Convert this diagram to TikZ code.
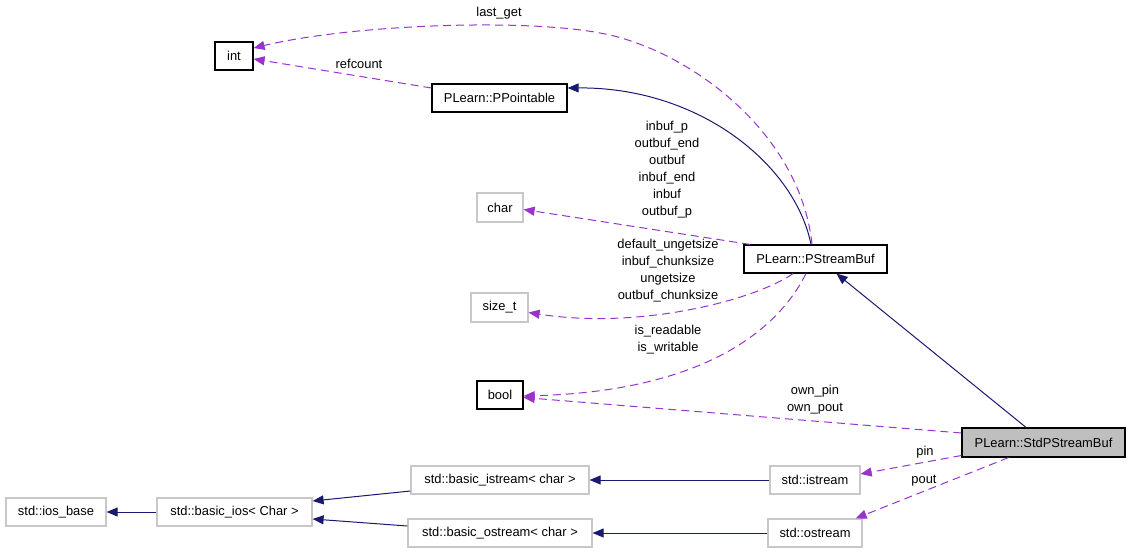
\documentclass[tikz,border=0pt]{standalone}
\usepackage{fontspec}
\setmainfont{Liberation Sans}
\usetikzlibrary{arrows.meta}
\definecolor{navyedge}{HTML}{191970}
\definecolor{purpleedge}{HTML}{9A32CD}
\definecolor{graybox}{HTML}{BFBFBF}
\definecolor{lightborder}{HTML}{C8C8C8}
\begin{document}
\begin{tikzpicture}[x=1pt,y=-1pt,
  font=\fontsize{12.9}{17}\selectfont,
  box/.style={draw=black,line width=1.2pt,inner sep=0pt,fill=white},
  gbox/.style={draw=lightborder,line width=1.2pt,inner sep=0pt,fill=white},
  inherit/.style={draw=navyedge,line width=1pt,-{Triangle[length=11pt,width=9pt]},color=navyedge},
  usage/.style={draw=purpleedge,line width=1pt,dash pattern=on 8pt off 5pt,-{Triangle[length=11pt,width=9pt]},color=purpleedge},
  lbl/.style={align=center,inner sep=0pt,text=black}]
\useasboundingbox (0,0) rectangle (1131,553);

% nodes
\node[box,minimum width=38pt,minimum height=28pt] (int) at (234,56) {int};
\node[box,minimum width=135pt,minimum height=28pt] (ppt) at (499.5,98) {PLearn::PPointable};
\node[gbox,minimum width=46pt,minimum height=29pt] (char) at (500,207.5) {char};
\node[gbox,minimum width=57pt,minimum height=29pt] (sizet) at (499.5,307.5) {size\_t};
\node[box,minimum width=143pt,minimum height=28pt] (psb) at (815.5,259) {PLearn::PStreamBuf};
\node[box,minimum width=46pt,minimum height=28pt] (bool) at (500,395) {bool};
\node[box,fill=graybox,minimum width=163pt,minimum height=29pt] (std) at (1043.5,442.5) {PLearn::StdPStreamBuf};
\node[gbox,minimum width=90pt,minimum height=28pt] (istream) at (815,480) {std::istream};
\node[gbox,minimum width=94pt,minimum height=28pt] (ostream) at (815,533) {std::ostream};
\node[gbox,minimum width=178pt,minimum height=28pt] (bis) at (500,480) {std::basic\_istream< char >};
\node[gbox,minimum width=184pt,minimum height=28pt] (bos) at (500,533) {std::basic\_ostream< char >};
\node[gbox,minimum width=155pt,minimum height=28pt] (bios) at (234.5,512) {std::basic\_ios< Char >};
\node[gbox,minimum width=100pt,minimum height=28pt] (iosbase) at (56,512) {std::ios\_base};

% inheritance edges
\draw[inherit] ([xshift=-4.5pt]psb.north) .. controls (795,165) and (700,87) .. ([yshift=10pt]ppt.east);
\draw[inherit] ([xshift=-17.5pt]std.north) -- ([xshift=21pt]psb.south);
\draw[inherit] (istream.west) -- (bis.east);
\draw[inherit] (ostream.west) -- (bos.east);
\draw[inherit] ([yshift=-11pt]bis.west) -- ([yshift=11pt]bios.east);
\draw[inherit] ([yshift=7pt]bos.west) -- ([yshift=-7pt]bios.east);
\draw[inherit] (bios.west) -- (iosbase.east);

% usage edges
\draw[usage] ([xshift=-3.5pt]psb.north) .. controls (800,130) and (685,48) .. (600,33)
   .. controls (520,18) and (350,25) .. ([yshift=8pt]int.east);
\draw[usage] ([yshift=10pt]ppt.west) -- ([yshift=-3pt]int.east);
\draw[usage] ([xshift=-65.5pt]psb.north) -- ([yshift=-2pt]char.east);
\draw[usage] ([xshift=-22.5pt]psb.south) .. controls (755,300) and (640,330) .. ([yshift=-5pt]sizet.east);
\draw[usage] ([xshift=-9.5pt]psb.south) .. controls (770,345) and (680,392) .. ([yshift=-1pt]bool.east);
\draw[usage] ([yshift=9.5pt]std.west) -- ([yshift=-2.5pt]bool.east);
\draw[usage] ([yshift=-13pt]std.west) -- ([yshift=6pt]istream.east);
\draw[usage] ([xshift=-35pt]std.south) -- ([xshift=-7pt]ostream.north east);

% labels
\node[lbl] (l1) at (499,13) {last\_get};
\node[lbl] (l2) at (359,64) {refcount};
\node[lbl] (l3) at (667,170) {inbuf\_p\\outbuf\_end\\outbuf\\inbuf\_end\\inbuf\\outbuf\_p};
\node[lbl] (l4) at (668,271) {default\_ungetsize\\inbuf\_chunksize\\ungetsize\\outbuf\_chunksize};
\node[lbl] (l5) at (668,339.5) {is\_readable\\is\_writable};
\node[lbl] (l6) at (815,399.5) {own\_pin\\own\_pout};
\node[lbl] (l7) at (925,452) {pin};
\node[lbl] (l8) at (924,481) {pout};
\end{tikzpicture}
\end{document}
